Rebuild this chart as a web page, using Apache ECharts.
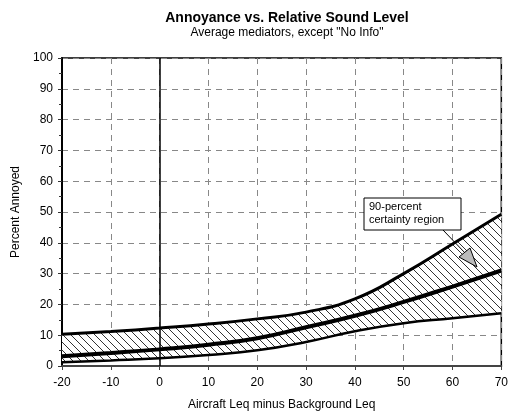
<!DOCTYPE html>
<html>
<head>
<meta charset="utf-8">
<script src="https://cdn.jsdelivr.net/npm/echarts@6/dist/echarts.min.js"></script>
<style>
    html, body {margin: 0; padding: 0; background: #fff;}
    #myChart {width: 511px; height: 416px;}
</style>
</head>
<body>
<div id="myChart"></div>
<script>
    // relative sound level (aircraft Leq minus background Leq)
    var levels = ['-20', '-10', '0', '10', '20', '30', '40', '50', '60', '70'];
    // 90-percent certainty region, upper and lower bounds
    var upperBound = [10.3, 11.2, 12.3, 13.6, 15.3, 17.5, 21.8, 30.0, 39.6, 49.3];
    var lowerBound = [1.2, 1.8, 2.5, 3.6, 5.1, 7.8, 11.3, 13.9, 15.5, 17.1];
    // average curve
    var average = [3.2, 4.2, 5.4, 6.9, 9.0, 12.6, 16.3, 20.8, 25.8, 31.0];

    var yTicks = [0, 10, 20, 30, 40, 50, 60, 70, 80, 90, 100];

    // hatch pattern for the band
    function hatch() {
        var c = document.createElement('canvas');
        c.width = 8;
        c.height = 8;
        var ctx = c.getContext('2d');
        ctx.fillStyle = '#fff';
        ctx.fillRect(0, 0, 8, 8);
        ctx.strokeStyle = '#333';
        ctx.lineWidth = 1;
        ctx.beginPath();
        ctx.moveTo(-1, -1); ctx.lineTo(9, 9);
        ctx.moveTo(-1, 7); ctx.lineTo(1, 9);
        ctx.moveTo(7, -1); ctx.lineTo(9, 1);
        ctx.stroke();
        return c;
    }

    var bandWidth = upperBound.map(function (u, i) { return +(u - lowerBound[i]).toFixed(2); });
    var font = 'Liberation Sans, Arial, sans-serif';
    var curve = 0.5;

    var myChart = echarts.init(document.getElementById('myChart'));
    myChart.setOption({
        animation: false,
        title: {
            text: 'Annoyance vs. Relative Sound Level',
            subtext: 'Average mediators, except "No Info"',
            left: 282,
            top: 6,
            textAlign: 'center',
            itemGap: 2,
            textStyle: {fontFamily: font, fontSize: 14, fontWeight: 'bold', color: '#000'},
            subtextStyle: {fontFamily: font, fontSize: 12, color: '#000'}
        },
        grid: {
            left: 62,
            right: 9,
            top: 58,
            bottom: 46,
            show: true,
            borderColor: '#000',
            borderWidth: 1.5
        },
        xAxis: {
            type: 'category',
            boundaryGap: false,
            data: levels,
            name: 'Aircraft Leq minus Background Leq',
            nameLocation: 'middle',
            nameGap: 33,
            nameTextStyle: {fontFamily: font, fontSize: 12, color: '#000'},
            axisLine: {lineStyle: {color: '#444', width: 2}},
            axisTick: {length: 4, interval: 0, lineStyle: {color: '#444'}},
            axisLabel: {fontFamily: font, fontSize: 12, color: '#000', margin: 11, interval: 0},
            splitLine: {show: true, interval: 0, lineStyle: {color: '#888', type: [6, 5], width: 1}}
        },
        yAxis: {
            type: 'value',
            min: 0,
            max: 100,
            interval: 10,
            name: 'Percent Annoyed',
            nameLocation: 'middle',
            nameGap: 36,
            nameTextStyle: {fontFamily: font, fontSize: 12, color: '#000'},
            axisLine: {show: true, lineStyle: {color: '#000', width: 2}},
            axisTick: {show: true, length: 4, lineStyle: {color: '#333'}},
            minorTick: {show: true, splitNumber: 2, length: 3, lineStyle: {color: '#333'}},
            axisLabel: {
                fontFamily: font, fontSize: 12, color: '#000', margin: 9,
                customValues: yTicks
            },
            splitLine: {show: true, lineStyle: {color: '#888', type: [6, 5], width: 1}}
        },
        series: [
            {
                name: 'lower',
                type: 'line',
                stack: 'band',
                smooth: curve,
                symbol: 'none',
                data: lowerBound,
                lineStyle: {color: '#000', width: 2.5},
                z: 3,
                markLine: {
                    silent: true,
                    symbol: 'none',
                    label: {show: false},
                    lineStyle: {color: '#000', type: 'solid', width: 1.5},
                    data: [{xAxis: '0'}]
                }
            },
            {
                name: 'band',
                type: 'line',
                stack: 'band',
                smooth: curve,
                symbol: 'none',
                data: bandWidth,
                lineStyle: {width: 0, opacity: 0},
                areaStyle: {color: {image: hatch(), repeat: 'repeat'}, opacity: 1},
                z: 2
            },
            {
                name: 'upper',
                type: 'line',
                smooth: curve,
                symbol: 'none',
                data: upperBound,
                lineStyle: {color: '#000', width: 3},
                z: 4
            },
            {
                name: 'average',
                type: 'line',
                smooth: curve,
                symbol: 'none',
                data: average,
                lineStyle: {color: '#000', width: 4},
                z: 5
            }
        ],
        graphic: [
            {
                type: 'rect',
                z: 100,
                shape: {x: 364, y: 198, width: 97, height: 32},
                style: {fill: '#fff', stroke: '#000', lineWidth: 1}
            },
            {
                type: 'text',
                z: 101,
                x: 369,
                y: 200,
                style: {
                    text: '90-percent\ncertainty region',
                    font: '11px ' + font,
                    lineHeight: 13,
                    fill: '#000'
                }
            },
            {
                type: 'line',
                z: 100,
                shape: {x1: 443, y1: 230, x2: 466, y2: 254},
                style: {stroke: '#000', lineWidth: 1}
            },
            {
                type: 'polygon',
                z: 101,
                shape: {points: [[459, 257], [470, 248], [477, 267]]},
                style: {fill: '#bbb', stroke: '#000', lineWidth: 1}
            }
        ]
    });
</script>
</body>
</html>
